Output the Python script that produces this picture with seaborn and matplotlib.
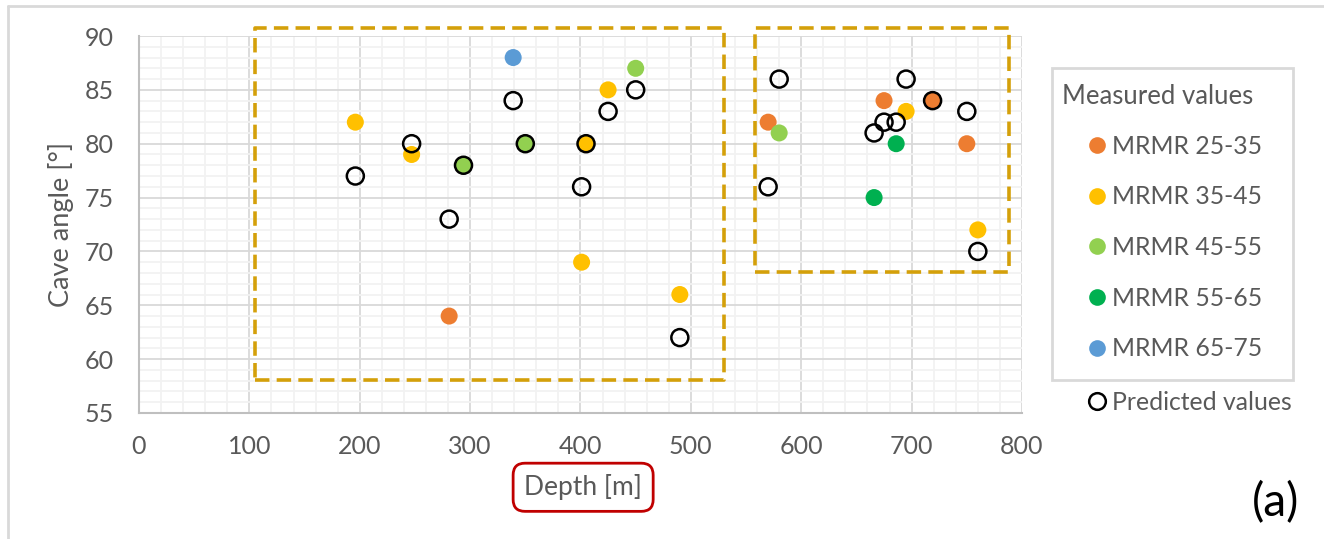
import matplotlib
matplotlib.use("Agg")
import matplotlib.pyplot as plt
from matplotlib.lines import Line2D
from matplotlib.patches import Rectangle
from matplotlib.ticker import MultipleLocator
import pandas as pd
import seaborn as sns

# Depth of each draw point, with measured and predicted cave angles
depth = [196, 247, 281, 294, 339, 350, 401, 405, 425, 450,
         490, 570, 580, 666, 675, 686, 695, 719, 750, 760]
measured = [82, 79, 64, 78, 88, 80, 69, 80, 85, 87,
            66, 82, 81, 75, 84, 80, 83, 84, 80, 72]
mrmr_class = ["MRMR 35-45", "MRMR 35-45", "MRMR 25-35", "MRMR 45-55", "MRMR 65-75",
              "MRMR 45-55", "MRMR 35-45", "MRMR 35-45", "MRMR 35-45", "MRMR 45-55",
              "MRMR 35-45", "MRMR 25-35", "MRMR 45-55", "MRMR 55-65", "MRMR 25-35",
              "MRMR 55-65", "MRMR 35-45", "MRMR 25-35", "MRMR 25-35", "MRMR 35-45"]
predicted = [77, 80, 73, 78, 84, 80, 76, 80, 83, 85,
             62, 76, 86, 81, 82, 82, 86, 84, 83, 70]

class_order = ["MRMR 25-35", "MRMR 35-45", "MRMR 45-55", "MRMR 55-65", "MRMR 65-75"]
class_colors = ["#ED7D31", "#FFC000", "#92D050", "#00B050", "#5B9BD5"]
palette = dict(zip(class_order, class_colors))

df = pd.DataFrame({"Depth": depth, "Measured": measured,
                   "MRMR": mrmr_class, "Predicted": predicted})

sns.set_theme(style="white")
plt.rcParams["font.family"] = ["Lato", "DejaVu Sans"]

TEXT = "#595959"
W, H = 1324, 539
fig = plt.figure(figsize=(W / 100, H / 100), dpi=100)
ax = fig.add_axes([139 / W, 1 - 413 / H, (1022 - 139) / W, (413 - 36) / H])

sz = 150
sns.scatterplot(data=df, x="Depth", y="Measured", hue="MRMR", hue_order=class_order,
                palette=palette, s=sz, linewidth=0, legend=False, ax=ax, zorder=3)
sns.scatterplot(data=df, x="Depth", y="Predicted", color="black", s=sz,
                edgecolor="black", linewidth=1.8, legend=False, ax=ax, zorder=4)
ax.collections[-1].set_facecolor("none")

ax.set_xlim(0, 800)
ax.set_ylim(55, 90)
ax.xaxis.set_major_locator(MultipleLocator(100))
ax.xaxis.set_minor_locator(MultipleLocator(20))
ax.yaxis.set_major_locator(MultipleLocator(5))
ax.yaxis.set_minor_locator(MultipleLocator(1))
ax.grid(which="major", color="#D9D9D9", linewidth=1.3, zorder=0)
ax.grid(which="minor", color="#F2F2F2", linewidth=1.3, zorder=0)
ax.set_axisbelow(True)

for side in ("top", "right"):
    ax.spines[side].set_visible(False)
for side in ("left", "bottom"):
    ax.spines[side].set_color("#BFBFBF")
    ax.spines[side].set_linewidth(1.5)
ax.tick_params(which="major", direction="out", length=6, width=1.3, color="#BFBFBF",
               labelsize=18, labelcolor=TEXT)
ax.tick_params(which="minor", length=0)
ax.tick_params(axis="y", pad=12)
ax.tick_params(axis="x", pad=10)

ax.set_ylabel("Cave angle [°]", fontsize=19.5, color=TEXT)
ax.yaxis.label.set_va("center")
ax.yaxis.set_label_coords(-0.0885, 0.5)
ax.set_xlabel("Depth [m]", fontsize=19, color=TEXT,
              bbox=dict(boxstyle="round,pad=0.42,rounding_size=0.45",
                        facecolor="white", edgecolor="#C00000", linewidth=2))
ax.xaxis.label.set_va("center")
ax.xaxis.set_label_coords(0.503, -0.197)

# Dashed frames grouping the shallow and deep draw points
box_style = dict(fill=False, edgecolor="#D4A00A", linewidth=2.6,
                 linestyle=(0, (4, 2)), joinstyle="round", clip_on=False, zorder=2)
ax.add_patch(Rectangle((105, 58.1), 530 - 105, 90.75 - 58.1, **box_style))
ax.add_patch(Rectangle((558, 68.1), 788 - 558, 90.75 - 68.1, **box_style))

# Legend: measured classes in a framed box, predicted entry below it
fig.add_artist(Rectangle((1052 / W, 1 - 380 / H), (1293 - 1052) / W, (380 - 68) / H,
                         transform=fig.transFigure, fill=False,
                         edgecolor="#D9D9D9", linewidth=2))
fig.text(1062 / W, 1 - 97 / H, "Measured values", fontsize=18.5, color=TEXT,
         ha="left", va="center")

lfs = 17.8
handles = [Line2D([], [], marker="o", linestyle="none", markersize=12,
                  markerfacecolor=c, markeredgewidth=0) for c in class_colors]
fig.legend(handles, class_order, loc="center left",
           bbox_to_anchor=(1086 / W, 1 - 247.5 / H), frameon=False, fontsize=lfs,
           labelcolor=TEXT, handlelength=0.85, handletextpad=0.22,
           labelspacing=1.12, borderpad=0, borderaxespad=0)

pred_handle = Line2D([], [], marker="o", linestyle="none", markersize=12,
                     markerfacecolor="none", markeredgecolor="black", markeredgewidth=1.8)
fig.legend([pred_handle], ["Predicted values"], loc="center left",
           bbox_to_anchor=(1086 / W, 1 - 402 / H), frameon=False, fontsize=lfs,
           labelcolor=TEXT, handlelength=0.85, handletextpad=0.22,
           borderpad=0, borderaxespad=0)

fig.text(1276 / W, 1 - 503 / H, "(a)", fontsize=33, color="black",
         ha="center", va="center")

# Outer chart-area border along the top and left edges
fig.add_artist(Line2D([8 / W, 1], [1 - 6 / H, 1 - 6 / H], transform=fig.transFigure,
                      color="#D9D9D9", linewidth=2))
fig.add_artist(Line2D([8 / W, 8 / W], [0, 1 - 6 / H], transform=fig.transFigure,
                      color="#D9D9D9", linewidth=2))

fig.savefig("out.png", dpi=100, facecolor="white")
